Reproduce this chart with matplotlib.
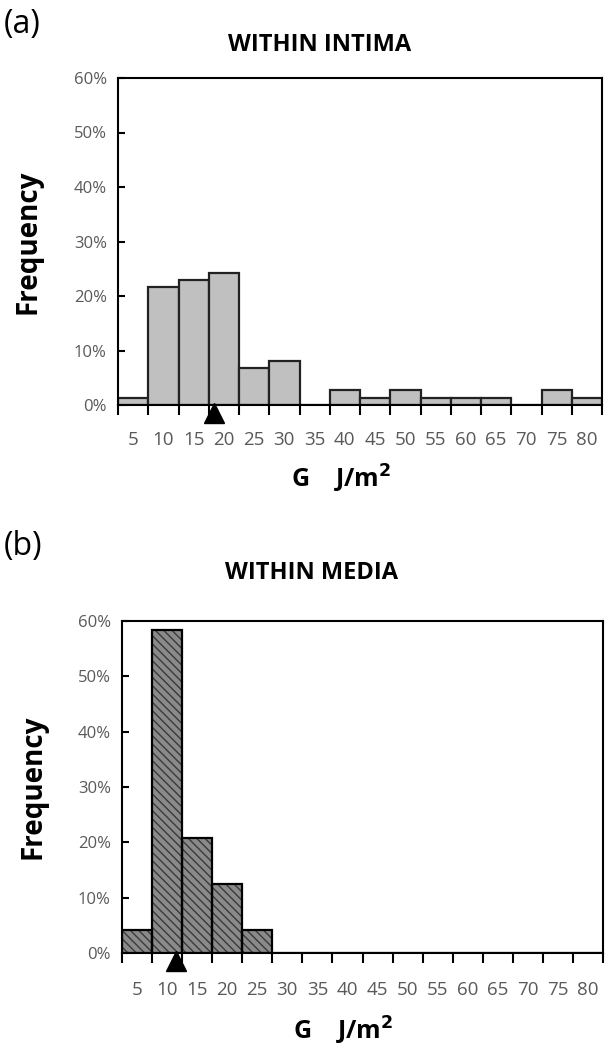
import matplotlib
matplotlib.use("Agg")
import matplotlib.pyplot as plt
import numpy as np
from matplotlib.transforms import ScaledTranslation

plt.rcParams['font.family'] = ['Open Sans', 'DejaVu Sans']

categories = ['5', '10', '15', '20', '25', '30', '35', '40', '45', '50',
              '55', '60', '65', '70', '75', '80']
intima_freq = [1.35, 21.6, 23.0, 24.3, 6.8, 8.1, 0.0, 2.7, 1.35, 2.7,
               1.35, 1.35, 1.35, 0.0, 2.7, 1.35]
media_freq = [4.2, 58.3, 20.8, 12.5, 4.2, 0, 0, 0, 0, 0, 0, 0, 0, 0, 0, 0]
median_intima_G = 15.9
median_media_G = 8.9
yticks = [0, 10, 20, 30, 40, 50, 60]
ytick_labels = ['0%', '10%', '20%', '30%', '40%', '50%', '60%']

W, H = 616, 1048
fig = plt.figure(figsize=(W / 100, H / 100), dpi=100)

def add_ax(l, t, r, b):
    return fig.add_axes([l / W, 1 - b / H, (r - l) / W, (b - t) / H])

ax1 = add_ax(118, 78, 602, 405)
ax2 = add_ax(122, 621, 603, 953)

x = np.arange(len(categories))

def style(ax, vals, median_G, face, hatch, edge, xpad, xlab_y):
    if hatch:
        ax.bar(x, vals, width=1.0, color=face, hatch=hatch, edgecolor='#3a3a3a',
               linewidth=0, zorder=2)
        ax.bar(x, vals, width=1.0, fill=False, edgecolor=edge, linewidth=1.6, zorder=3)
    else:
        ax.bar(x, vals, width=1.0, color=face, edgecolor=edge, linewidth=1.6, zorder=2)
    ax.set_xlim(-0.5, len(categories) - 0.5)
    ax.set_ylim(0, 60)
    ax.set_yticks(yticks)
    ax.set_yticklabels(ytick_labels, color='#595959', fontsize=12)
    ax.set_xticks(np.arange(-0.5, len(categories), 1.0))
    ax.set_xticklabels([])
    ax.set_xticks(x, minor=True)
    ax.set_xticklabels(categories, minor=True, color='#595959', fontsize=13.5)
    ax.tick_params(axis='x', which='major', direction='out', length=7, width=1.5, color='black')
    ax.tick_params(axis='x', which='minor', length=0, pad=xpad)
    ax.tick_params(axis='y', direction='in', length=5, width=1.5, pad=8)
    for s in ax.spines.values():
        s.set_linewidth(1.5)
        s.set_color('black')
    pos = median_G / 5 - 0.5
    tr = ax.transData + ScaledTranslation(0, -8 / 100, fig.dpi_scale_trans)
    ax.plot([pos], [0], marker='^', markersize=14, color='black', clip_on=False,
            transform=tr, zorder=5)
    ax.set_ylabel('Frequency', fontsize=20, fontweight='bold')
    ax.yaxis.set_label_coords(-0.155, 0.5)
    ax.set_xlabel('G    J/m$^\\mathbf{2}$', fontsize=18, fontweight='bold')
    ax.xaxis.set_label_coords(0.46, xlab_y)

style(ax1, intima_freq, median_intima_G, '#c0c0c0', None, '#222222', 18.5, -0.178)
style(ax2, media_freq, median_media_G, '#8a8a8a', '\\\\\\\\', 'black', 20, -0.185)

fig.text(4 / W, 1 - 24 / H, '(a)', fontsize=23, va='center', ha='left')
fig.text(320 / W, 1 - 45 / H, 'WITHIN INTIMA', fontsize=17, fontweight='bold', va='center', ha='center')
fig.text(4 / W, 1 - 546 / H, '(b)', fontsize=23, va='center', ha='left')
fig.text(312 / W, 1 - 573 / H, 'WITHIN MEDIA', fontsize=17, fontweight='bold', va='center', ha='center')

fig.savefig('out.png', dpi=100)
